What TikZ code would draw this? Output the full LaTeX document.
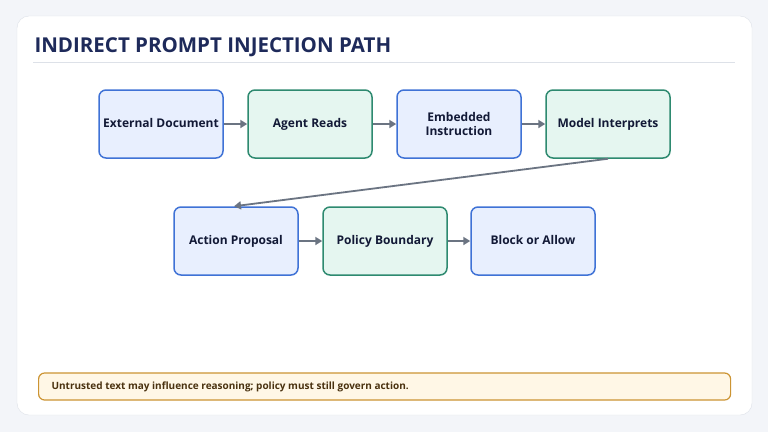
\documentclass[tikz,border=0pt]{standalone}
\usepackage{fontspec}
\setmainfont{Open Sans}
\usetikzlibrary{arrows.meta}
\definecolor{bg}{HTML}{F3F5F9}
\definecolor{cardline}{HTML}{DDE1E8}
\definecolor{navy}{HTML}{1E2A5A}
\definecolor{bfill}{HTML}{E8EFFE}
\definecolor{bline}{HTML}{3F72D6}
\definecolor{gfill}{HTML}{E5F6F0}
\definecolor{gline}{HTML}{2E8A70}
\definecolor{arr}{HTML}{6B7482}
\definecolor{nfill}{HTML}{FFF7E6}
\definecolor{nline}{HTML}{CC9433}
\definecolor{ntext}{HTML}{4A3210}
\begin{document}
\begin{tikzpicture}[x=1pt,y=-1pt,
 box/.style={draw,line width=1.5pt,rounded corners=7pt,minimum width=124pt,minimum height=68pt,align=center,font=\bfseries\fontsize{12}{14}\selectfont,text=navy!60!black,inner sep=2pt},
 one/.style={text height=9pt,text depth=3pt},
 blue/.style={box,fill=bfill,draw=bline},
 green/.style={box,fill=gfill,draw=gline},
 ar/.style={draw=arr,line width=1.8pt,-{Triangle[length=7pt,width=8pt]}}]
\fill[bg] (0,0) rectangle (768,432);
\useasboundingbox (0,0) rectangle (768,432);
\draw[cardline,fill=white,rounded corners=12pt] (17,16) rectangle (752,415);
\node[anchor=west,font=\bfseries\fontsize{20.5}{23}\selectfont,text=navy] (title) at (31,47) {INDIRECT PROMPT INJECTION PATH};
\draw[cardline,line width=1pt] (33,62) -- (735,62);
\node[blue,one] (a) at (161,124) {External Document};
\node[green,one] (b) at (310,124) {Agent Reads};
\node[blue] (c) at (459,124) {Embedded\\Instruction};
\node[green,one] (d) at (608,124) {Model Interprets};
\node[blue,one] (e) at (236,241) {Action Proposal};
\node[green,one] (f) at (385,241) {Policy Boundary};
\node[blue,one] (g) at (533,241) {Block or Allow};
\draw[ar] (a) -- (b);
\draw[ar] (b) -- (c);
\draw[ar] (c) -- (d);
\draw[ar] (d.south) -- (e.north -| 234,0);
\draw[ar] (e) -- (f);
\draw[ar] (f) -- (g);
\node[draw=nline,fill=nfill,line width=1.2pt,rounded corners=6pt,minimum width=692pt,minimum height=27pt,anchor=west] (n) at (38,386.5) {};
\node[anchor=west,font=\bfseries\fontsize{10}{12}\selectfont,text=ntext] (nt) at (48,386.5) {Untrusted text may influence reasoning; policy must still govern action.};
\end{tikzpicture}
\end{document}
